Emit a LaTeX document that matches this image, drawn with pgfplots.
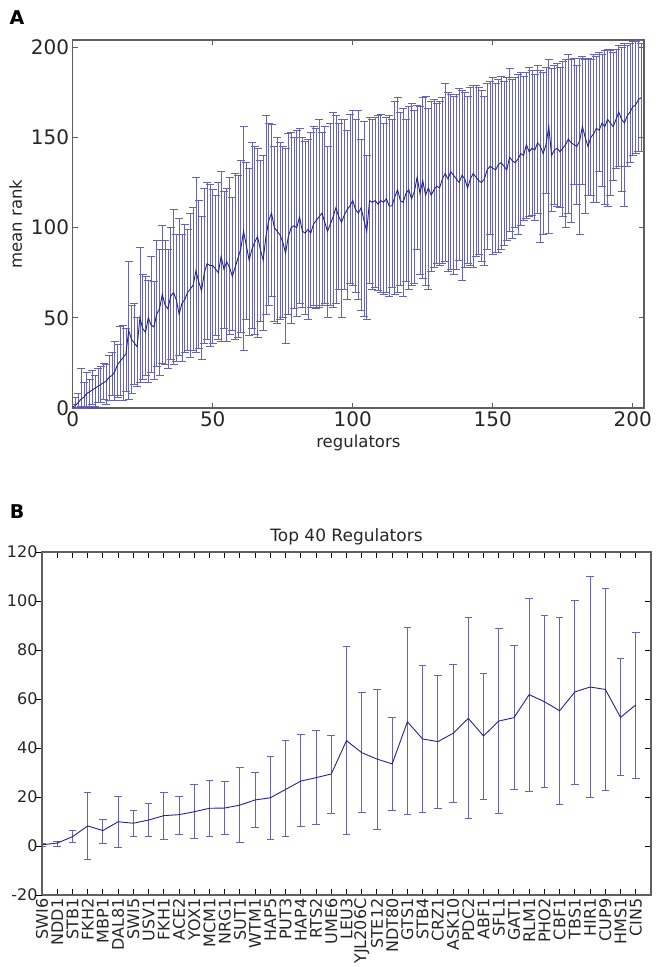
\documentclass[border=0pt]{standalone}
\usepackage{pgfplots}
\usepackage{pgfplotstable}
\pgfplotsset{compat=1.18}
\usepackage{fontspec}
\setmainfont{DejaVu Sans}

\definecolor{barcol}{RGB}{100,100,185}
\definecolor{linecol}{RGB}{35,35,140}
\definecolor{spine}{RGB}{95,95,95}

% panel A: regulator index, mean rank, lower and upper end of bar
\pgfplotstableread{
x m lo hi
0 0.5 0 2
1 1.5 0 6
2 3 0 8
3 5 1 22
4 6 0 14
5 8 1 20
6 9 1 16
7 10 2 21
8 11 1 18
9 12 3 22
10 13 3 23
11 14 5 25
12 15 2 24
13 17 4 29
14 18 7 31
15 20 4 37
16 24 6 35
17 26 7 45
18 28 4 46
19 30 9 44
20 43 5 81
21 38 8 57
22 36 13 58
23 34 12 50
24 50 14 89
25 44 16 74
26 42 18 73
27 50 14 71
28 46 20 84
29 45 16 70
30 52 23 93
31 55 18 88
32 63 25 101
33 57 24 93
34 55 22 88
35 62 27 100
36 64 24 110
37 60 26 96
38 52 29 105
39 58 26 96
40 60 31 102
41 64 32 99
42 66 28 108
43 68 32 111
44 76 31 128
45 70 33 115
46 65 27 106
47 75 36 122
48 80 38 125
49 79 34 124
50 79 36 121
51 77 40 118
52 75 38 125
53 84 37 131
54 77 44 120
55 81 37 122
56 78 41 128
57 73 43 117
58 78 38 130
59 83 39 129
60 88 42 137
61 98 32 156
62 90 49 136
63 82 40 133
64 88 44 147
65 92 41 145
66 95 39 144
67 88 48 137
68 82 43 140
69 95 52 162
70 104 57 158
71 108 62 157
72 100 48 145
73 98 47 150
74 96 49 147
75 92 50 145
76 86 36 144
77 95 52 152
78 100 47 153
79 101 55 150
80 100 51 154
81 106 58 155
82 98 56 150
83 97 52 148
84 99 49 149
85 97 56 153
86 102 57 156
87 104 55 155
88 106 56 160
89 108 57 153
90 103 58 156
91 98 50 145
92 102 57 158
93 106 56 164
94 111 58 162
95 106 66 158
96 103 50 160
97 107 66 160
98 110 60 154
99 112 69 163
100 115 68 165
101 110 64 160
102 108 60 165
103 111 54 149
104 104 51 159
105 98 49 140
106 115 69 161
107 114 66 160
108 115 67 161
109 113 65 162
110 115 64 163
111 114 63 158
112 116 64 161
113 112 62 162
114 112 67 160
115 117 63 170
116 121 64 172
117 115 68 164
118 114 62 166
119 119 70 160
120 121 66 167
121 116 68 169
122 120 69 165
123 128 88 168
124 119 74 167
125 126 72 172
126 118 68 173
127 122 66 166
128 118 76 170
129 121 78 171
130 123 80 169
131 122 79 170
132 127 80 172
133 130 81 180
134 127 76 175
135 131 77 174
136 129 74 173
137 127 77 174
138 125 82 177
139 129 71 176
140 127 78 175
141 122 80 173
142 127 79 178
143 130 78 179
144 128 84 179
145 126 85 178
146 125 81 176
147 127 79 173
148 132 88 180
149 134 96 181
150 133 85 183
151 132 86 180
152 135 86 182
153 136 88 184
154 134 90 181
155 132 93 183
156 139 98 188
157 137 94 182
158 136 100 183
159 138 96 185
160 141 101 186
161 140 104 184
162 146 105 186
163 142 106 189
164 144 107 187
165 143 104 185
166 147 108 190
167 145 92 187
168 141 96 186
169 146 119 189
170 156 97 193
171 140 109 188
172 143 113 190
173 144 112 191
174 142 111 189
175 144 106 192
176 146 100 193
177 149 108 196
178 147 103 193
179 146 124 194
180 145 113 190
181 148 96 194
182 156 124 195
183 150 108 193
184 145 118 194
185 150 118 193
186 152 114 196
187 155 114 195
188 154 131 197
189 158 123 196
190 156 113 198
191 160 112 199
192 158 118 198
193 156 126 197
194 160 133 199
195 164 134 201
196 160 120 200
197 158 112 202
198 162 134 201
199 164 136 202
200 167 140 203
201 168 141 203
202 171 142 204
203 172 142 202
}\dataA

% panel B: top 40 regulators, mean rank, lower and upper end of bar
\pgfplotstableread{
x m lo hi
0 0.5 0 1
1 1.2 -0.2 2
2 3.8 1.4 6.3
3 8.2 -5.6 21.8
4 6.3 1.1 11.0
5 9.9 -0.5 20.4
6 9.3 3.9 14.7
7 10.6 4.1 17.3
8 12.4 2.5 21.9
9 12.8 4.9 20.4
10 14.0 2.9 25.0
11 15.4 4.1 26.6
12 15.5 4.6 26.2
13 16.7 1.4 32.0
14 18.8 7.6 30.1
15 19.7 2.7 36.6
16 23.1 4.1 42.9
17 26.5 8.0 45.7
18 27.9 9.0 47.1
19 29.4 13.1 45.3
20 43.0 4.8 81.4
21 38.1 13.5 62.6
22 35.5 6.9 64.1
23 33.5 14.4 52.4
24 50.7 12.7 89.1
25 43.7 13.8 73.6
26 42.6 15.2 69.7
27 46.0 17.8 74.0
28 52.1 11.3 93.2
29 44.9 19.2 70.3
30 51.0 13.1 88.8
31 52.4 22.9 82.0
32 61.8 22.4 101.1
33 58.9 23.9 94.0
34 55.2 17.0 93.4
35 62.9 25.0 100.4
36 64.9 19.7 109.9
37 63.9 22.6 105.2
38 52.5 28.6 76.6
39 57.6 27.7 87.3
}\dataB

\begin{document}
\begin{tikzpicture}
\useasboundingbox (0pt,0pt) rectangle (657pt,-967pt);

\node[font=\fontsize{19}{22}\selectfont\bfseries] at (17pt,-18pt) {A};
\node[font=\fontsize{19}{22}\selectfont\bfseries] at (17pt,-512pt) {B};

\begin{axis}[
    at={(72.7pt,-40pt)}, anchor=north west,
    scale only axis, width=571.3pt, height=368pt,
    xmin=0, xmax=204, ymin=0, ymax=204,
    xtick={0,50,100,150,200}, ytick={0,50,100,150,200},
    tick align=inside, tick pos=both,
    major tick length=5pt,
    axis line style={spine, line width=1.1pt},
    tick style={spine, line width=1pt},
    /pgf/number format/assume math mode=true,
    ticklabel style={font=\fontsize{20}{22}\selectfont, text=black!85},
    xlabel={regulators}, ylabel={mean rank},
    label style={font=\fontsize{16.5}{19}\selectfont, text=black!85},
    xlabel style={yshift=-1pt},
    ylabel style={yshift=2pt},
]
\addplot[draw=none, mark=none, forget plot,
    error bars/.cd, y dir=both, y explicit, error mark=|,
    error bar style={draw=barcol, line width=0.8pt},
    error mark options={draw=barcol, mark size=4pt, line width=0.8pt},
] table[x=x, y=m, y error plus expr=\thisrow{hi}-\thisrow{m},
        y error minus expr=\thisrow{m}-\thisrow{lo}] {\dataA};
\addplot[linecol, line width=0.9pt, mark=none] table[x=x, y=m] {\dataA};
\end{axis}

\begin{axis}[
    at={(42pt,-552pt)}, anchor=north west,
    scale only axis, width=609pt, height=343pt,
    xmin=0, xmax=40, ymin=-20, ymax=120,
    title={Top 40 Regulators},
    title style={font=\fontsize{17}{20}\selectfont, text=black!85, yshift=-3pt},
    xtick={0,...,39},
    xticklabels={SWI6,NDD1,STB1,FKH2,MBP1,DAL81,SWI5,USV1,FKH1,ACE2,YOX1,MCM1,NRG1,SUT1,WTM1,HAP5,PUT3,HAP4,RTS2,UME6,LEU3,YJL206C,STE12,NDT80,GTS1,STB4,CRZ1,ASK10,PDC2,ABF1,SFL1,GAT1,RLM1,PHO2,CBF1,TBS1,HIR1,CUP9,HMS1,CIN5},
    x tick label style={rotate=90, anchor=east, font=\fontsize{16}{18}\selectfont, text=black!85},
    ytick={-20,0,20,40,60,80,100,120},
    ytick pos=right, yticklabel pos=left,
    xtick pos=both,
    tick align=inside,
    major tick length=6pt,
    axis line style={spine, line width=1.1pt},
    tick style={black, line width=1pt},
    /pgf/number format/assume math mode=true,
    y tick label style={font=\fontsize{16}{18}\selectfont, text=black!85, xshift=-1pt},
]
\addplot[draw=none, mark=none, forget plot,
    error bars/.cd, y dir=both, y explicit, error mark=|,
    error bar style={draw=barcol, line width=0.9pt},
    error mark options={draw=barcol, mark size=3.8pt, line width=0.9pt},
] table[x=x, y=m, y error plus expr=\thisrow{hi}-\thisrow{m},
        y error minus expr=\thisrow{m}-\thisrow{lo}] {\dataB};
\addplot[linecol, line width=0.9pt, mark=none] table[x=x, y=m] {\dataB};
\end{axis}

% left-hand ticks of panel B point outward
\begin{axis}[
    at={(42pt,-552pt)}, anchor=north west,
    scale only axis, width=609pt, height=343pt,
    xmin=0, xmax=40, ymin=-20, ymax=120,
    axis x line=none, axis y line*=left,
    ytick={-20,0,20,40,60,80,100,120}, yticklabels={},
    tick align=outside, major tick length=6pt,
    axis line style={spine, line width=1.1pt, -},
    tick style={black, line width=1pt},
]
\end{axis}
\end{tikzpicture}
\end{document}
